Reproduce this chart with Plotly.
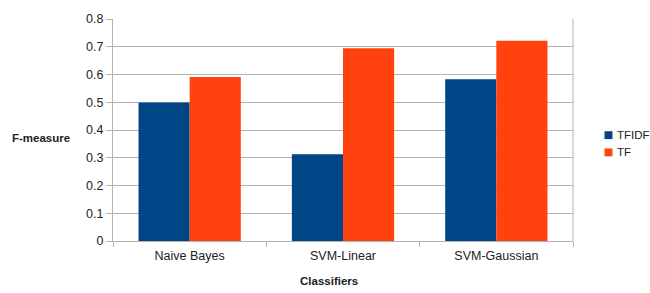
import plotly.graph_objects as go

categories = ["Naive Bayes", "SVM-Linear", "SVM-Gaussian"]
tfidf = [0.499, 0.313, 0.583]
tf = [0.591, 0.695, 0.722]
series_names = ["TFIDF", "TF"]
colors = ["#004586", "#ff420e"]
y_ticks = [0, 0.1, 0.2, 0.3, 0.4, 0.5, 0.6, 0.7, 0.8]
y_tick_labels = ["0", "0.1", "0.2", "0.3", "0.4", "0.5", "0.6", "0.7", "0.8"]

W, H = 650, 293
L, R, T, B = 113, 77, 15.5, 52
PW, PH = W - L - R, H - T - B

def px_x(p):
    return (p - L) / PW

def px_y(p):
    return (H - B - p) / PH

FONT = "Liberation Sans, Arial, sans-serif"
GRID = "#b3b3b3"
TXT = "#222222"

fig = go.Figure()
for name, vals, col in zip(series_names, [tfidf, tf], colors):
    fig.add_trace(go.Bar(x=categories, y=vals, name=name, marker_color=col,
                         marker_line_width=0, showlegend=False, hoverinfo="skip"))

fig.update_layout(
    width=W, height=H,
    margin=dict(l=L, r=R, t=T, b=B, pad=0),
    paper_bgcolor="white", plot_bgcolor="white",
    barmode="group", bargap=0.333, bargroupgap=0,
    font=dict(family=FONT, size=12, color=TXT),
    xaxis=dict(showgrid=False, showline=True, linecolor=GRID, linewidth=1,
               mirror=False, ticks="outside", tickson="boundaries", ticklen=5,
               tickcolor=GRID, tickfont=dict(size=12.5, color=TXT),
               ticklabelstandoff=3),
    yaxis=dict(range=[0, 0.8], tickvals=y_ticks, ticktext=y_tick_labels,
               showgrid=True, gridcolor=GRID, gridwidth=1,
               showline=True, linecolor=GRID, linewidth=1,
               ticks="outside", ticklen=6, tickcolor=GRID,
               tickfont=dict(size=12.5, color=TXT), zeroline=False),
)

# right border of the plot area
fig.add_shape(type="line", xref="paper", yref="paper", x0=1, x1=1, y0=0, y1=1,
              line=dict(color=GRID, width=1))

# axis titles
fig.add_annotation(text="<b>Classifiers</b>", xref="paper", yref="paper",
                   x=px_x(328.5), y=px_y(282), showarrow=False,
                   font=dict(size=11.5, color=TXT), xanchor="center", yanchor="middle")
fig.add_annotation(text="<b>F-measure</b>", xref="paper", yref="paper",
                   x=px_x(10), y=px_y(136), showarrow=False,
                   font=dict(size=11.5, color=TXT), xanchor="left", yanchor="middle")

# legend
leg_y = [133.5, 151]
for name, col, yc in zip(series_names, colors, leg_y):
    fig.add_shape(type="rect", xref="paper", yref="paper",
                  x0=px_x(604.5), x1=px_x(612.5), y0=px_y(yc - 4), y1=px_y(yc + 4),
                  fillcolor=col, line=dict(width=0))
    fig.add_annotation(text=name, xref="paper", yref="paper",
                       x=px_x(614.5), y=px_y(yc), showarrow=False,
                       font=dict(size=11.5, color=TXT), xanchor="left", yanchor="middle")

fig.write_html("out.html", config={"displayModeBar": False},
               post_script="document.body.style.margin='0px';document.body.style.overflow='hidden';")
